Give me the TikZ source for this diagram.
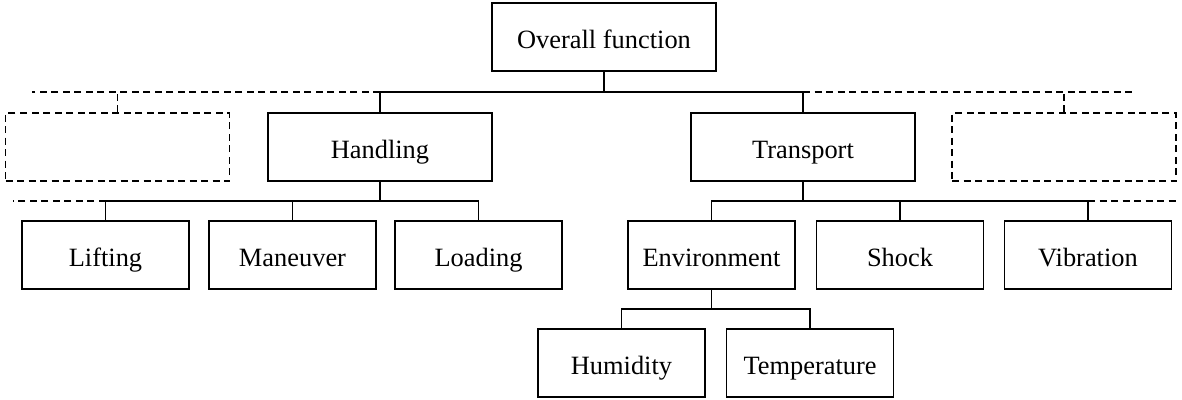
\documentclass[tikz,border=0pt]{standalone}
\usepackage{fontspec}
\setmainfont{Liberation Serif}
\begin{document}
\begin{tikzpicture}[x=1pt,y=-1pt,
  box/.style={draw, line width=1.9pt, minimum width=#1, minimum height=68pt, inner sep=0pt,
    anchor=center, text height=22pt, text depth=0pt,
    font=\fontsize{26.4}{30}\selectfont},
  box/.default=167pt,
  ghostbox/.style={box=224pt, dash pattern=on 7pt off 4.5pt},
  link/.style={line width=1.9pt},
  ghostlink/.style={line width=1.9pt, dash pattern=on 7pt off 4.5pt}]
\useasboundingbox (0,0) rectangle (1182,399);
% nodes
\node[box=224pt] (overall) at (604,37) {Overall function};
\node[box=224pt] (handling) at (380,147) {Handling};
\node[box=224pt] (transport) at (803,147) {Transport};
\node[ghostbox] (gl) at (117.5,147) {};
\node[ghostbox] (gr) at (1064,147) {};
\node[box] (lifting) at (105.5,255) {Lifting};
\node[box] (maneuver) at (292.5,255) {Maneuver};
\node[box] (loading) at (478.5,255) {Loading};
\node[box] (environment) at (711.5,255) {Environment};
\node[box] (shock) at (900,255) {Shock};
\node[box] (vibration) at (1088,255) {Vibration};
\node[box] (humidity) at (621.5,363) {Humidity};
\node[box] (temperature) at (810,363) {Temperature};
% bus coordinates
\coordinate (b1) at (604,92);
\coordinate (b1l) at (32,92);
\coordinate (b1r) at (1135,92);
\coordinate (b2) at (380,201);
\coordinate (b2l) at (12.5,201);
\coordinate (b3) at (803,201);
\coordinate (b3r) at (1178,201);
\coordinate (b4) at (711.5,309);
% level 1
\draw[link] (overall.south) -- (b1);
\draw[link] (handling.north) -- (handling.north |- b1) -- (transport.north |- b1) -- (transport.north);
\draw[ghostlink] (handling.north |- b1) -- (b1l);
\draw[ghostlink] (transport.north |- b1) -- (b1r);
\draw[ghostlink] (gl.north) -- (gl.north |- b1);
\draw[ghostlink] (gr.north) -- (gr.north |- b1);
% level 2 left
\draw[link] (handling.south) -- (b2);
\draw[link] (lifting.north) -- (lifting.north |- b2) -- (loading.north |- b2) -- (loading.north);
\draw[link] (maneuver.north) -- (maneuver.north |- b2);
\draw[ghostlink] (lifting.north |- b2) -- (b2l);
% level 2 right
\draw[link] (transport.south) -- (b3);
\draw[link] (environment.north) -- (environment.north |- b3) -- (vibration.north |- b3) -- (vibration.north);
\draw[link] (shock.north) -- (shock.north |- b3);
\draw[ghostlink] (vibration.north |- b3) -- (b3r);
% level 3
\draw[link] (environment.south) -- (b4);
\draw[link] (humidity.north) -- (humidity.north |- b4) -- (temperature.north |- b4) -- (temperature.north);
\end{tikzpicture}
\end{document}
